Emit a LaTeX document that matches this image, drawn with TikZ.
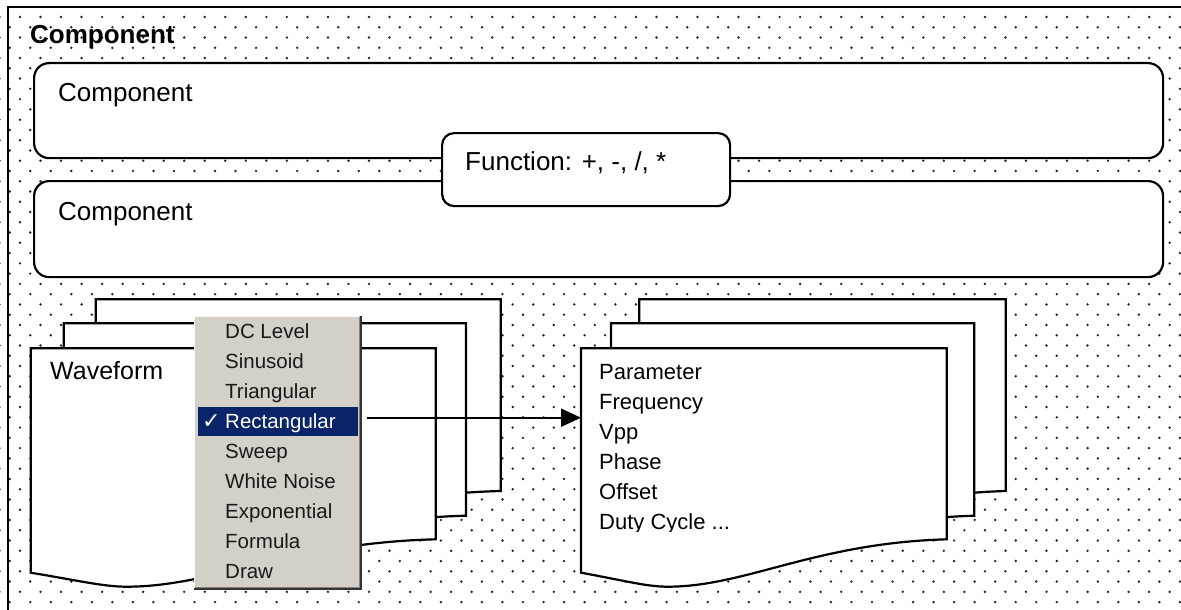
\documentclass[tikz,border=0pt]{standalone}
\usepackage{fontspec}
\setmainfont{Liberation Sans}
\newfontfamily\symfont{DejaVu Sans}
\usetikzlibrary{arrows.meta}
\definecolor{menugray}{HTML}{D4D0C8}
\definecolor{menublue}{HTML}{0A246A}
\definecolor{dotcol}{HTML}{262626}
\newcommand{\docshape}[4]{%
  \pgfmathsetmacro\dw{#3-#1}%
  \pgfmathsetmacro\dyL{#4+33.4}%
  \pgfmathsetmacro\dyLb{#4+41.4}%
  \pgfmathsetmacro\dyT{#4+47.4}%
  \pgfmathsetmacro\dyR{#4+3.7}%
  \pgfmathsetmacro\dxT{#1+0.237*\dw}%
  \pgfmathsetmacro\dxa{#1+0.12*\dw}%
  \pgfmathsetmacro\dxb{#1+0.18*\dw}%
  \pgfmathsetmacro\dxc{#1+0.45*\dw}%
  \pgfmathsetmacro\dxd{#1+0.64*\dw}%
  \draw[doc] (#1,#2) -- (#3,#2) -- (#3,#4) .. controls (\dxd,\dyR) and (\dxc,\dyT) .. (\dxT,\dyT) .. controls (\dxb,\dyT) and (\dxa,\dyLb) .. (#1,\dyL) -- cycle;%
}
\begin{document}
\begin{tikzpicture}[x=1pt,y=-1pt,
  frame/.style={line width=2.2pt},
  box/.style={draw, line width=2.2pt, fill=white, rounded corners=15pt, inner sep=0pt, anchor=north west},
  doc/.style={draw, line width=2.2pt, fill=white, line join=miter},
  lbl/.style={anchor=base west, inner sep=0pt, font=\fontsize{26}{30}\selectfont},
  doclbl/.style={anchor=base west, inner sep=0pt, font=\fontsize{22}{26}\selectfont},
  mitem/.style={anchor=base west, inner sep=0pt, font=\fontsize{20.5}{24}\selectfont, text=black!90}
]
\useasboundingbox (0,0) rectangle (1181,610);
\clip (0,0) rectangle (1181,610);
\fill[white] (0,0) rectangle (1181,610);
% dot pattern
\foreach \j in {0,...,58} {
  \pgfmathsetmacro\rowy{17+10.265*\j}
  \pgfmathsetmacro\rowx{20+mod(\j,2)*10.265}
  \fill[dotcol] foreach \i in {-1,...,57} { ({\rowx+20.53*\i},\rowy) circle (1.35) };
}
% outer frame
\draw[frame] (8,640) -- (8,7) -- (1200,7);
\node[lbl, font=\bfseries\fontsize{26}{30}\selectfont] (title) at (30,44) {Component};
% component boxes
\node[box, minimum width=1129pt, minimum height=95pt] (comp1) at (33,62) {};
\node[box, minimum width=1129pt, minimum height=96pt] (comp2) at (33,180) {};
\node[lbl] (c1) at (58,101) {Component};
\node[lbl] (c2) at (58,220) {Component};
\node[box, rounded corners=12pt, minimum width=288pt, minimum height=73pt] (func) at (441,132) {};
\node[lbl] (fn) at (465,170) {Function: +, -, /, *};
% left stack
\docshape{95.7}{299.3}{500.7}{491}
\docshape{63.7}{323.3}{466}{515.7}
\docshape{30.7}{348.3}{435.7}{539.3}
\node[lbl, font=\fontsize{25}{30}\selectfont] (wave) at (50,379.3) {Waveform};
% right stack
\docshape{639.3}{299.3}{1005.7}{491}
\docshape{611}{323.3}{974.3}{515.7}
\docshape{581}{348.3}{946.7}{539.3}
\begin{scope}
\clip (585,352) rectangle (940,531);
\node[doclbl] (p1) at (599,379.3) {Parameter};
\node[doclbl] (p2) at (599,409.3) {Frequency};
\node[doclbl] (p3) at (599,439.3) {Vpp};
\node[doclbl] (p4) at (599,469.3) {Phase};
\node[doclbl] (p5) at (599,499.3) {Offset};
\node[doclbl] (p6) at (599,529.3) {Duty Cycle ...};
\end{scope}
% menu
\node[fill=menugray, minimum width=167pt, minimum height=274pt, anchor=north west, inner sep=0pt] (menu) at (194.3,316) {};
\draw[line width=1pt, white!90!menugray] ([xshift=0.5pt,yshift=-0.5pt]menu.south west) -- ([xshift=0.5pt,yshift=-0.5pt]menu.north west) -- ([xshift=-3pt,yshift=-0.5pt]menu.north east);
\draw[line width=1pt, gray] ([xshift=-2.5pt,yshift=-1pt]menu.north east) -- ([xshift=-2.5pt,yshift=2.5pt]menu.south east) -- ([xshift=1pt,yshift=2.5pt]menu.south west);
\draw[line width=2pt, black!80] ([xshift=-1pt]menu.north east) -- ([xshift=-1pt,yshift=1pt]menu.south east) -- ([yshift=1pt]menu.south west);
\node[fill=menublue, minimum width=159.6pt, minimum height=29.3pt, anchor=north west, inner sep=0pt] (hl) at (197.7,406.7) {};
\node[mitem] (m1) at (225,338) {DC Level};
\node[mitem] (m2) at (225,368) {Sinusoid};
\node[mitem] (m3) at (225,398) {Triangular};
\node[mitem, text=white] (m4) at (225,428) {Rectangular};
\node[mitem] (m5) at (225,458) {Sweep};
\node[mitem] (m6) at (225,488) {White Noise};
\node[mitem] (m7) at (225,518) {Exponential};
\node[mitem] (m8) at (225,548) {Formula};
\node[mitem] (m9) at (225,578) {Draw};
\node[anchor=base west, inner sep=0pt, text=white, font=\symfont\bfseries\fontsize{22}{24}\selectfont] (chk) at (202,428) {✓};
% arrow
\coordinate (arrS) at (366.7,417.7);
\coordinate (arrE) at (581,417.7);
\draw[line width=2pt, -{Triangle[length=20pt,width=18pt]}] (arrS) -- (arrE);
\end{tikzpicture}
\end{document}
